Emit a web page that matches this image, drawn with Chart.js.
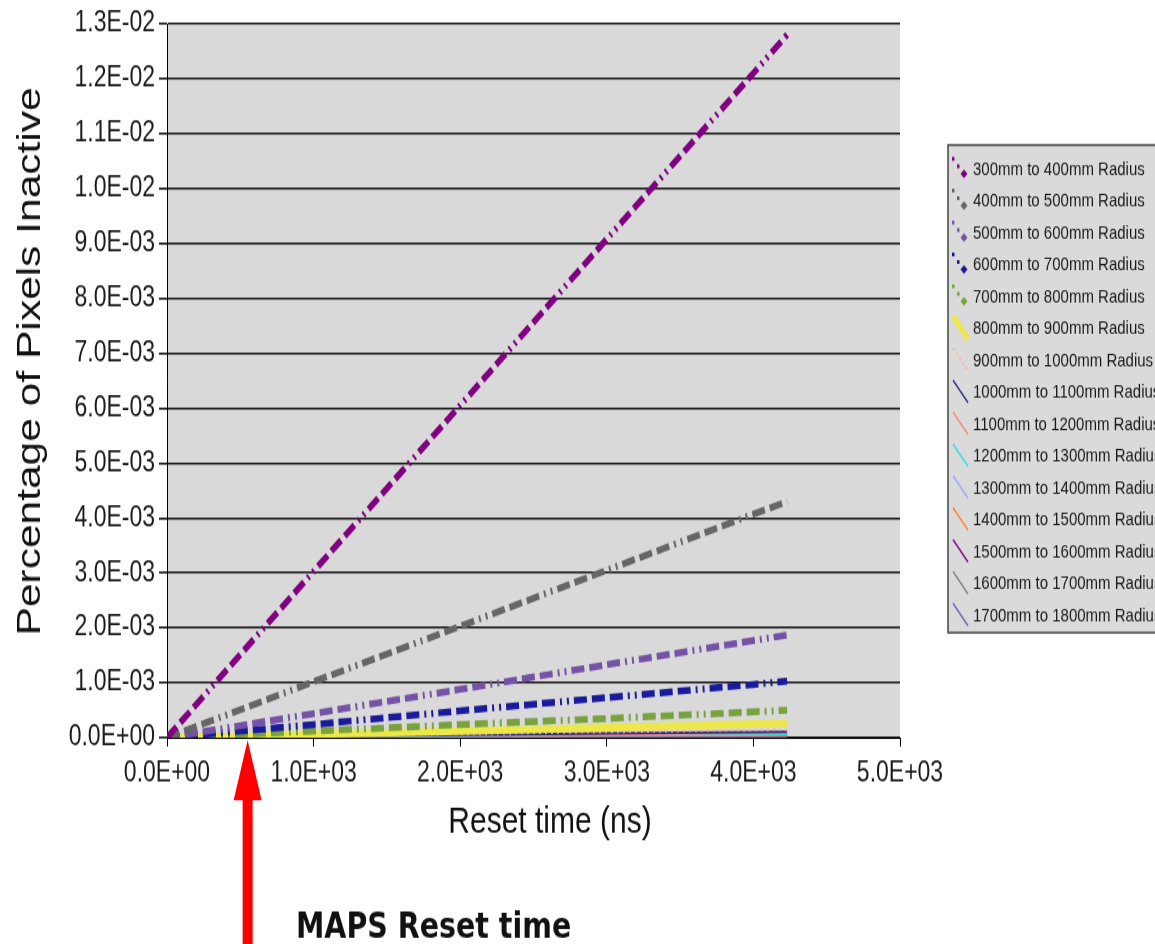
<!DOCTYPE html>
<html lang="en">
<head>
    <meta charset="UTF-8">
    <title>Percentage of Pixels Inactive vs Reset time</title>
    <script src="https://cdn.jsdelivr.net/npm/chart.js"></script>
    <style>
        html, body { margin: 0; padding: 0; background: #fff; }
        /* the original picture is stretched vertically, so the canvas is too (755 -> 944) */
        #resetChart { display: block; width: 1155px; height: 944px; }
    </style>
</head>
<body>
<canvas id="resetChart" width="1155" height="755" style="width:1155px;height:944px"></canvas>

<script>
    // reset time (ns) at which each series is sampled
    const resetTimes = [0, 1000, 2000, 3000, 4000, 4230];

    // fraction of pixels inactive, one array per radius band
    const band300  = [0, 0.00303, 0.00605, 0.00908, 0.01210, 0.01280];
    const band400  = [0, 0.00102, 0.00203, 0.00305, 0.00407, 0.00430];
    const band500  = [0, 0.00044, 0.00088, 0.00133, 0.00177, 0.00187];
    const band600  = [0, 0.00024, 0.00049, 0.00073, 0.00097, 0.00103];
    const band700  = [0, 0.00012, 0.00024, 0.00035, 0.00047, 0.00050];
    const band800  = [0, 0.00006, 0.00012, 0.00018, 0.00025, 0.00026];
    const band900  = [0, 0.000035, 0.00007, 0.000106, 0.00014, 0.00015];
    const band1000 = [0, 0.000026, 0.000052, 0.000078, 0.000104, 0.00011];
    const band1100 = [0, 0.000021, 0.000043, 0.000064, 0.000085, 0.00009];
    const band1200 = [0, 0.000017, 0.000033, 0.00005, 0.000066, 0.00007];
    const band1300 = [0, 0.000014, 0.000028, 0.000043, 0.000057, 0.00006];
    const band1400 = [0, 0.000012, 0.000024, 0.000035, 0.000047, 0.00005];
    const band1500 = [0, 0.0000095, 0.000019, 0.000028, 0.000038, 0.00004];
    const band1600 = [0, 0.000007, 0.000014, 0.000021, 0.000028, 0.00003];
    const band1700 = [0, 0.0000047, 0.0000095, 0.000014, 0.000019, 0.00002];

    const bandLabels = [
        '300mm to 400mm Radius', '400mm to 500mm Radius', '500mm to 600mm Radius',
        '600mm to 700mm Radius', '700mm to 800mm Radius', '800mm to 900mm Radius',
        '900mm to 1000mm Radius', '1000mm to 1100mm Radius', '1100mm to 1200mm Radius',
        '1200mm to 1300mm Radius', '1300mm to 1400mm Radius', '1400mm to 1500mm Radius',
        '1500mm to 1600mm Radius', '1600mm to 1700mm Radius', '1700mm to 1800mm Radius'
    ];
    const bandValues = [band300, band400, band500, band600, band700, band800, band900, band1000,
        band1100, band1200, band1300, band1400, band1500, band1600, band1700];

    const yTicks = { min: 0, max: 0.013, step: 0.001 };
    const xTicks = { min: 0, max: 5000, step: 1000 };
    const MAPS_RESET_NS = 550; // where the red arrow points

    // line looks
    const dashDot = [13, 5, 13, 5, 13, 5, 2, 5, 2, 5];
    const bandStyles = [
        { color: '#800080', width: 5.5, dash: dashDot, marker: true },
        { color: '#666666', width: 5.5, dash: dashDot, marker: true },
        { color: '#7452a6', width: 5.5, dash: dashDot, marker: true },
        { color: '#1a1a9c', width: 5.5, dash: dashDot, marker: true },
        { color: '#78a23e', width: 5.5, dash: dashDot, marker: true },
        { color: '#ece84a', width: 6, dash: [] },
        { color: '#ffb08c', width: 2, dash: [2, 4] },
        { color: '#2c2c7c', width: 2, dash: [] },
        { color: '#ff8080', width: 2, dash: [] },
        { color: '#30e0e0', width: 2, dash: [] },
        { color: '#a4a4ff', width: 2, dash: [] },
        { color: '#ff8030', width: 2, dash: [] },
        { color: '#800080', width: 2, dash: [] },
        { color: '#808080', width: 2, dash: [] },
        { color: '#7060a8', width: 2, dash: [] }
    ];

    const FONT = "'Liberation Sans', Arial, sans-serif";

    function sci(v) {
        if (Math.abs(v) < 1e-12) return '0.0E+00';
        const parts = v.toExponential(1).split('e');
        const n = parseInt(parts[1], 10);
        return parts[0] + 'E' + (n < 0 ? '-' : '+') + String(Math.abs(n)).padStart(2, '0');
    }

    const datasets = bandValues.map((vals, i) => ({
        label: bandLabels[i],
        data: resetTimes.map((t, k) => ({ x: t, y: vals[k] })),
        borderColor: bandStyles[i].color,
        backgroundColor: bandStyles[i].color,
        borderWidth: bandStyles[i].width,
        borderDash: bandStyles[i].dash,
        borderCapStyle: 'butt',
        pointRadius: 0,
        fill: false,
        tension: 0
    }));

    // grey plot area, titles, legend box and the red arrow
    const decor = {
        id: 'decor',
        beforeDraw(chart) {
            const { ctx, chartArea: a } = chart;
            ctx.save();
            ctx.fillStyle = '#d9d9d9';
            ctx.fillRect(a.left, a.top, a.right - a.left, a.bottom - a.top);
            ctx.restore();
        },
        afterDraw(chart) {
            const { ctx } = chart;
            const xs = chart.scales.x;
            ctx.save();
            ctx.fillStyle = '#111';

            // y title
            ctx.save();
            ctx.translate(31, 289);
            ctx.rotate(-Math.PI / 2);
            ctx.font = '34px ' + FONT;
            ctx.textAlign = 'center';
            ctx.textBaseline = 'middle';
            ctx.fillText('Percentage of Pixels Inactive', 0, 0);
            ctx.restore();

            // x title
            ctx.font = '30px ' + FONT;
            ctx.textAlign = 'center';
            ctx.textBaseline = 'middle';
            ctx.fillText('Reset time (ns)', 550, 658);

            // legend
            const lx = 948, ly = 116;
            ctx.fillStyle = '#dadada';
            ctx.fillRect(lx, ly, 230, 390);
            ctx.strokeStyle = '#444';
            ctx.lineWidth = 1.5;
            ctx.strokeRect(lx, ly, 230, 390);
            ctx.font = '15px ' + FONT;
            ctx.textAlign = 'left';
            ctx.textBaseline = 'middle';
            bandLabels.forEach((lab, i) => {
                const cy = 134.5 + i * 25.5;
                const st = bandStyles[i];
                ctx.save();
                ctx.strokeStyle = st.color;
                ctx.fillStyle = st.color;
                if (st.marker) {
                    // two dots and a diamond
                    ctx.fillRect(952, cy - 9, 2.5, 3);
                    ctx.fillRect(957, cy - 3, 2.5, 3);
                    ctx.beginPath();
                    ctx.moveTo(964, cy + 1); ctx.lineTo(967.5, cy + 4.5);
                    ctx.lineTo(964, cy + 8); ctx.lineTo(960.5, cy + 4.5);
                    ctx.closePath(); ctx.fill();
                } else {
                    ctx.lineWidth = st.width === 6 ? 5 : 1.3;
                    ctx.setLineDash(st.dash.length ? [2, 3] : []);
                    ctx.beginPath();
                    ctx.moveTo(953, cy - 9);
                    ctx.lineTo(968, cy + 9);
                    ctx.stroke();
                }
                ctx.restore();
                ctx.fillStyle = '#1a1a1a';
                ctx.fillText(lab, 973, cy + 1);
            });

            // red arrow to the MAPS reset time
            const ax = xs.getPixelForValue(MAPS_RESET_NS);
            ctx.fillStyle = '#ff0000';
            ctx.beginPath();
            ctx.moveTo(ax, 592);
            ctx.lineTo(ax + 14, 640);
            ctx.lineTo(ax + 5, 640);
            ctx.lineTo(ax + 5, 760);
            ctx.lineTo(ax - 5, 760);
            ctx.lineTo(ax - 5, 640);
            ctx.lineTo(ax - 14, 640);
            ctx.closePath();
            ctx.fill();

            ctx.fillStyle = '#111';
            ctx.font = "bold 28.5px 'DejaVu Sans', sans-serif";
            ctx.textAlign = 'left';
            ctx.textBaseline = 'alphabetic';
            ctx.fillText('MAPS Reset time', 296, 750);
            ctx.restore();
        }
    };

    const ctx = document.getElementById('resetChart').getContext('2d');
    const resetChart = new Chart(ctx, {
        type: 'line',
        data: { datasets },
        options: {
            animation: false,
            responsive: false,
            devicePixelRatio: 1,
            layout: { padding: { top: 19, right: 255, left: 0, bottom: 0 } },
            plugins: { legend: { display: false }, tooltip: { enabled: false } },
            scales: {
                x: {
                    type: 'linear',
                    min: xTicks.min, max: xTicks.max,
                    afterFit(s) { s.height = 165; },
                    ticks: {
                        stepSize: xTicks.step, maxRotation: 0, padding: 8,
                        color: '#1a1a1a', font: { family: FONT, size: 23 },
                        callback: v => sci(v)
                    },
                    grid: { drawOnChartArea: false, drawTicks: true, tickLength: 7, color: '#000', lineWidth: 1 },
                    border: { color: '#000', width: 1 }
                },
                y: {
                    min: yTicks.min, max: yTicks.max,
                    afterFit(s) { s.width = 167; },
                    ticks: {
                        stepSize: yTicks.step, padding: 4,
                        color: '#1a1a1a', font: { family: FONT, size: 23 },
                        callback: v => sci(v)
                    },
                    grid: { color: '#111', lineWidth: 1.6, tickLength: 8 },
                    border: { color: '#000', width: 1 }
                }
            }
        },
        plugins: [decor]
    });
</script>
</body>
</html>
